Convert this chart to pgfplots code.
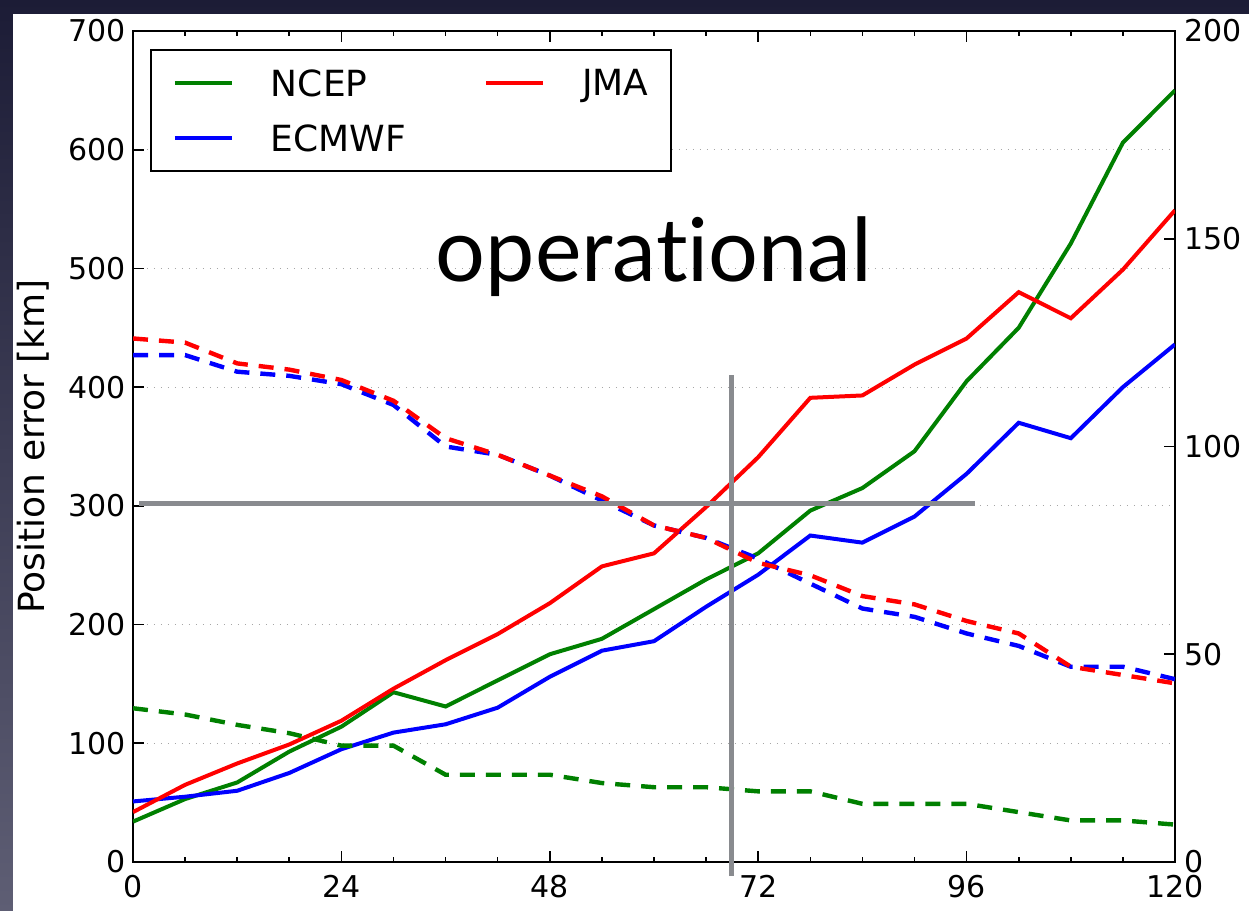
\documentclass[border=0pt]{standalone}
\usepackage{pgfplots}
\usepackage{pgfplotstable}
\pgfplotsset{compat=1.18}
\usetikzlibrary{shadings}
\usepackage{fontspec}
\setmainfont{DejaVu Sans}
\newfontfamily\gillfont[Ligatures={NoCommon}]{Lato}

\definecolor{mplgreen}{rgb}{0,0.5,0}
\definecolor{mplblue}{rgb}{0,0,1}
\definecolor{mplred}{rgb}{1,0,0}
\definecolor{crossgray}{HTML}{898B8F}
\definecolor{frametop}{HTML}{1C1C36}
\definecolor{framebot}{HTML}{5E5E74}

% track position error [km] by lead time [h]
\pgfplotstableread{
h    ncep ecmwf jma
0    34   51    42
6    53   55    65
12   67   60    83
18   93   75    99
24   114  95    119
30   143  109   146
36   131  116   170
42   153  130   192
48   175  156   218
54   188  178   249
60   213  186   260
66   238  215   299
72   260  242   341
78   296  275   391
84   315  269   393
90   346  291   419
96   405  327   441
102  450  370   480
108  521  357   458
114  606  400   499
120  650  436   549
}\errtable

% number of cases (right axis)
\pgfplotstableread{
h    ncep ecmwf jma
0    37   122   126
6    35.5 122   125
12   33   118   120
18   31   117   118.5
24   28   115   116
30   28   110   111
36   21   100   102
42   21   98    98
48   21   93    93
54   19   87    88
60   18   81    81
66   18   78    78
72   17   73    72
78   17   67    69
84   14   61    64
90   14   59    62
96   14   55    58
102  12   52    55
108  10   47    47
114  10   47    45
120  9    44    43
}\casetable

\pgfplotsset{
  common/.style={
    at={(0,0)}, anchor=south west,
    scale only axis, width=521pt, height=415.5pt,
    xmin=0, xmax=120,
    tick align=inside,
    major tick length=5.3pt, minor tick length=2.6pt,
    every tick/.style={black, line width=0.8pt},
    tick label style={font=\fontsize{15}{18}\selectfont},
    /pgf/number format/assume math mode=true,
  },
}

\begin{document}
\begin{tikzpicture}
% slide frame
\fill[top color=frametop, bottom color=framebot] (-66.5pt,-24.5pt) rectangle (558pt,431pt);
\fill[white] (-60pt,-24.5pt) rectangle (558pt,424pt);

% position error, left axis
\begin{axis}[
  common,
  ymin=0, ymax=700,
  xtick={0,24,...,120},
  minor xtick={0,6,...,120},
  ytick={0,100,...,700},
  xtick pos=both, ytick pos=left,
  axis line style={line width=1pt},
  ymajorgrids,
  major grid style={gray!70, line width=0.6pt, dash pattern=on 0.6pt off 2.9pt},
  xticklabel style={yshift=-3pt},
  ylabel={Position error [km]},
  ylabel style={at={(axis description cs:-0.0845,0.5)}, anchor=base,
    font=\fontsize{18}{21}\selectfont},
  legend columns=2,
  legend cell align=left,
  legend image code/.code={\draw[#1] (0pt,0pt) -- (28.5pt,0pt);},
  legend style={
    at={(axis description cs:0.0163,0.978)}, anchor=north west,
    draw=black, line width=1pt, fill=white,
    inner xsep=11pt, inner ysep=9.5pt,
    font=\fontsize{18}{21}\selectfont,
    nodes={inner sep=0pt, text depth=0pt},
    row sep=14.4pt,
    /tikz/every odd column/.append style={column sep=18.5pt},
    /tikz/every even column/.append style={column sep=39pt},
  },
]
\addlegendimage{mplgreen, line width=2pt}
\addlegendentry{NCEP}
\addlegendimage{mplred, line width=2pt}
\addlegendentry{JMA}
\addlegendimage{mplblue, line width=2pt}
\addlegendentry{ECMWF}

\addplot[mplgreen, line width=2pt, forget plot] table[x=h, y=ncep] {\errtable};
\addplot[mplblue,  line width=2pt, forget plot] table[x=h, y=ecmwf] {\errtable};
\addplot[mplred,   line width=2pt, forget plot] table[x=h, y=jma] {\errtable};
\end{axis}

% number of cases, right axis
\begin{axis}[
  common,
  ymin=0, ymax=200,
  xtick=\empty,
  ytick={0,50,...,200},
  ytick pos=right, yticklabel pos=right,
  axis line style={draw=none},
  yticklabel style={xshift=1pt},
]
\addplot[mplgreen, line width=2.2pt, dash pattern=on 7.5pt off 5.5pt] table[x=h, y=ncep] {\casetable};
\addplot[mplblue,  line width=2.2pt, dash pattern=on 7.5pt off 5.5pt] table[x=h, y=ecmwf] {\casetable};
\addplot[mplred,   line width=2.2pt, dash pattern=on 7.5pt off 5.5pt] table[x=h, y=jma] {\casetable};
\end{axis}

% crosshair and caption
\begin{axis}[
  common,
  ymin=0, ymax=700,
  hide axis, clip=false,
]
\draw[crossgray, line width=2.5pt] (axis cs:0.7,302) -- (axis cs:97,302);
\draw[crossgray, line width=2.5pt] (axis cs:68.9,-12) -- (axis cs:68.9,410);
\node[anchor=base, font=\gillfont\fontsize{44}{50}\selectfont] at (axis cs:60,489) {operational};
\end{axis}

\pgfresetboundingbox
\useasboundingbox (-66.5pt,-24.5pt) rectangle (558pt,431pt);
\end{tikzpicture}
\end{document}
